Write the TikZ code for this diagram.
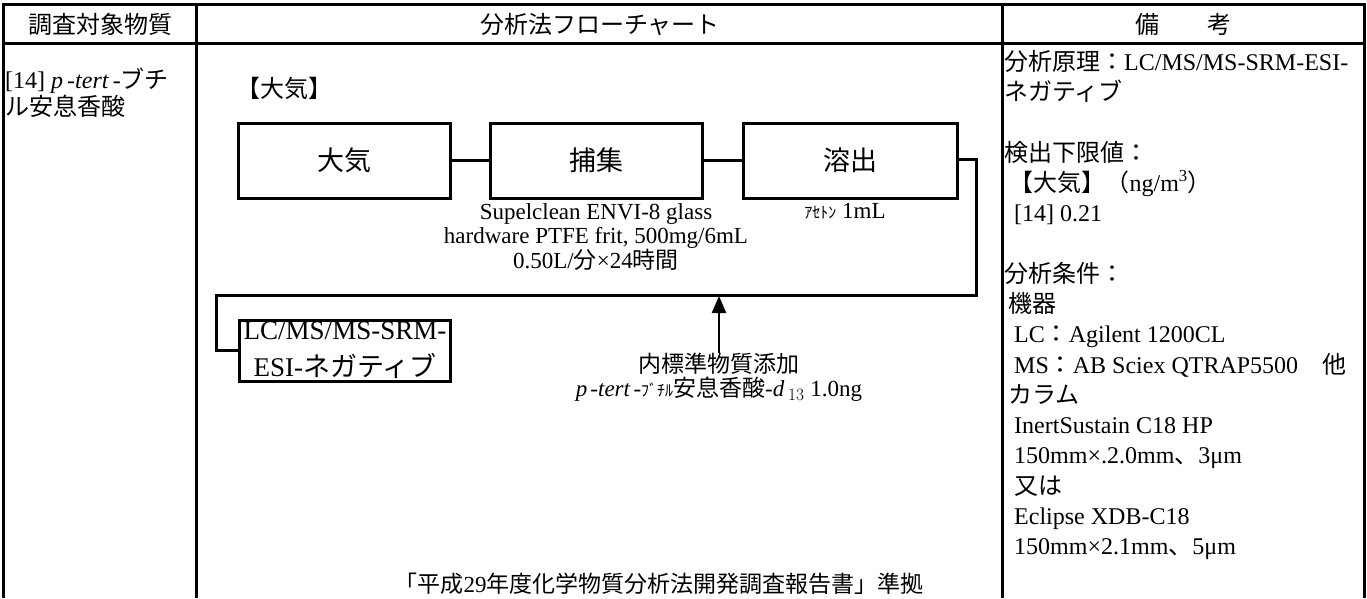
\documentclass[tikz,border=0pt]{standalone}
\usepackage{fontspec}
\setmainfont{Liberation Serif}
\newfontfamily\cjk{Noto Sans CJK JP}
\newcommand\J[1]{{\cjk #1}}
\usetikzlibrary{arrows.meta}
\begin{document}
\begin{tikzpicture}[x=1pt,y=-1pt,
  rule/.style={line width=3pt},
  conn/.style={line width=3pt},
  stepbox/.style={draw,line width=3pt,minimum height=75pt,inner sep=0pt,font=\fontsize{27}{30}\selectfont},
  txt/.style={inner sep=0pt,font=\fontsize{24}{30}\selectfont},
  small/.style={inner sep=0pt,font=\fontsize{23}{24}\selectfont,align=center}]
\useasboundingbox (0,0) rectangle (1367,598);
% table
\draw[rule] (3,598) -- (3,4) -- (1364,4) -- (1364,598);
\draw[rule] (3,43) -- (1364,43);
\draw[rule] (196,4) -- (196,598);
\draw[rule] (1002,4) -- (1002,598);
% header
\node[txt] (h1) at (100,24) {\J{調査対象物質}};
\node[txt] (h2) at (600,24) {\J{分析法フローチャート}};
\node[txt] (h3) at (1183,24) {\J{備　　考}};
% left column
\node[txt,anchor=base west] (sub1) at (5,88) {[14] \textit{p}\hspace{4pt}-\textit{tert}\hspace{4pt}-\J{ブチ}};
\node[txt,anchor=base west] (sub2) at (5,115) {\J{ル安息香酸}};
% flowchart
\node[txt,anchor=west] (air) at (236,88) {\J{【大気】}};
\node[stepbox,minimum width=212pt] (b1) at (344,160.5) {\J{大気}};
\node[stepbox,minimum width=212pt] (b2) at (596,160.5) {\J{捕集}};
\node[stepbox,minimum width=214pt] (b3) at (850,160.5) {\J{溶出}};
\draw[conn] (b1) -- (b2);
\draw[conn] (b2) -- (b3);
\node[small,anchor=north] (c2) at ([yshift=-4pt]b2.south) {Supelclean ENVI-8 glass\\hardware PTFE frit, 500mg/6mL\\0.50L/\J{分}×24\J{時間}};
\node[small,anchor=north] (c3) at ([xshift=-5pt,yshift=-4pt]b3.south) {\J{\fontsize{16}{18}\selectfont ｱｾﾄﾝ} 1mL};
\node[draw,line width=3pt,inner xsep=4pt,inner ysep=2pt,align=center,font=\fontsize{27}{37}\selectfont] (b4) at (345,350.5) {LC/MS/MS-SRM-\\ESI-\J{ネガティブ}};
\coordinate (r1) at (976,159);
\coordinate (r2) at (976,295);
\coordinate (r3) at (216,295);
\coordinate (r4) at (216,350);
\draw[conn] (b3.east |- r1) -- (r1) -- (r2) -- (r3) -- (r4) -- (b4.west |- r4);
\coordinate (arrtip) at (719,296);
\node[small,anchor=north] (istd) at (719,353) {\J{内標準物質添加}\\\textit{p}\hspace{3pt}-\textit{tert}\hspace{3pt}-\J{\fontsize{16}{18}\selectfont ﾌﾞﾁﾙ}\J{安息香酸}-\textit{d}\,$_{13}$ 1.0ng};
\draw[line width=2.4pt,-{Triangle[width=14pt,length=17pt]}] (istd.north) -- (arrtip);
\node[txt,anchor=base,font=\fontsize{23}{30}\selectfont] (ref) at (659,592) {\J{「平成}29\J{年度化学物質分析法開発調査報告書」準拠}};
% remarks
\begin{scope}[every node/.style={txt,anchor=base west}]
\node (m1) at (1004,70) {\J{分析原理：}LC/MS/MS-SRM-ESI-};
\node (m2) at (1004,100) {\J{ネガティブ}};
\node (m3) at (1004,161) {\J{検出下限値：}};
\node (m4) at (1004,191) {\J{\ 【大気】（}ng/m\textsuperscript{3}\J{）}};
\node (m5) at (1004,221) {\ \,[14] 0.21};
\node (m6) at (1004,282) {\J{分析条件：}};
\node (m7) at (1004,312) {\J{\,機器}};
\node (m8) at (1004,342) {\ \,LC\J{：}Agilent 1200CL};
\node (m9) at (1004,373) {\ \,MS\J{：}AB Sciex QTRAP5500\J{　他}};
\node (m10) at (1004,403) {\J{\,カラム}};
\node (m11) at (1004,433) {\ \,InertSustain C18 HP};
\node (m12) at (1004,463) {\ \,150mm×.2.0mm\J{、}3μm};
\node (m13) at (1004,494) {\ \J{\,又は}};
\node (m14) at (1004,524) {\ \,Eclipse XDB-C18};
\node (m15) at (1004,554) {\ \,150mm×2.1mm\J{、}5μm};
\end{scope}
\end{tikzpicture}
\end{document}
